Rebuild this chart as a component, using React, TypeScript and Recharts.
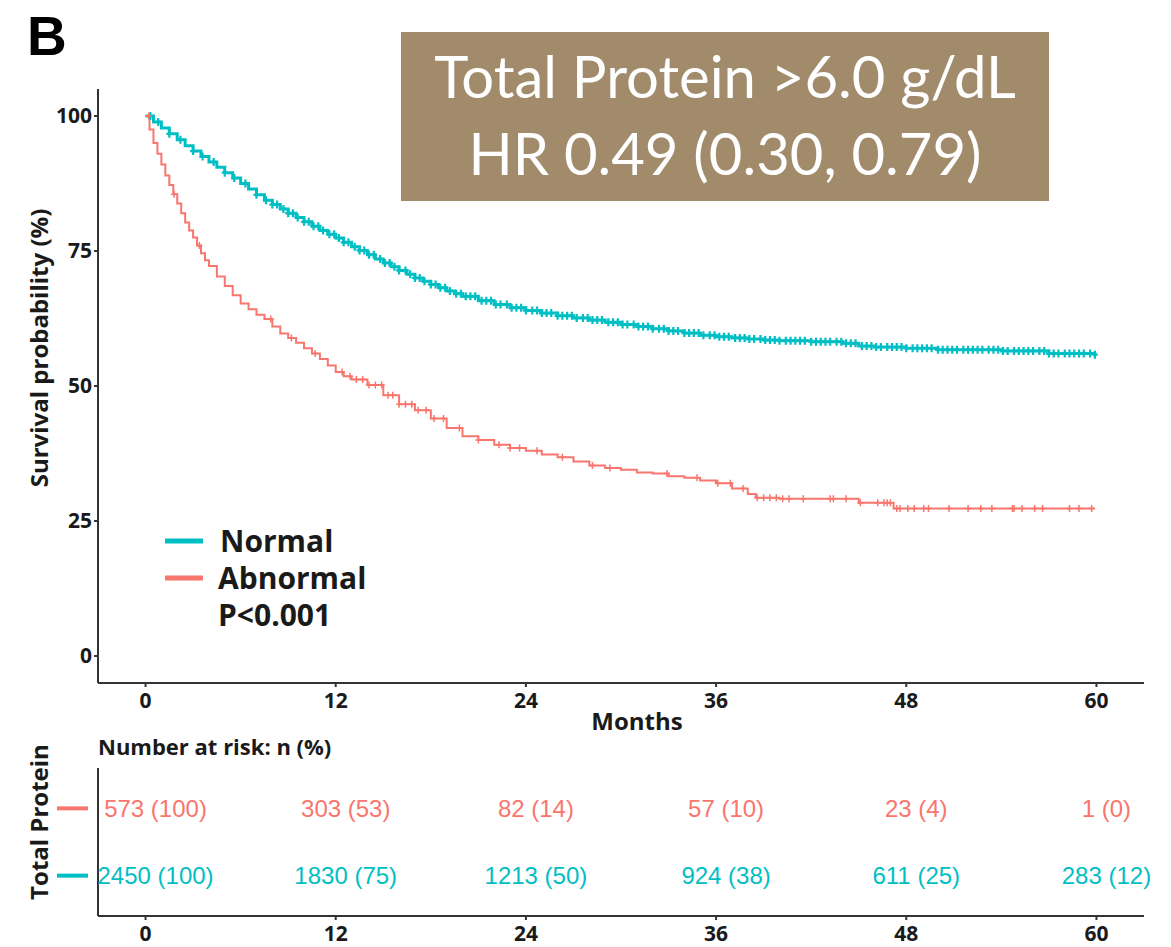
import { ComposedChart, Line, Scatter, XAxis, YAxis } from 'recharts'

const CYAN = '#00BFC4'
const RED = '#F8766D'
const AXIS = '#333333'
const INK = '#1a1a1a'
const BOLD_FONT = '"Open Sans", "Noto Sans", sans-serif'

const MONTH_TICKS = [0, 12, 24, 36, 48, 60]
const SURV_TICKS = [0, 25, 50, 75, 100]

// Kaplan-Meier steps (months, survival %)
const normalTime = [0, 0.5, 1, 1.5, 2, 2.5, 3, 3.5, 4, 4.5, 5, 5.5, 6, 6.5, 7, 7.5, 8, 8.5, 9, 9.5, 10, 10.5, 11, 11.5, 12, 12.5, 13, 13.5, 14, 14.5, 15, 15.5, 16, 16.5, 17, 17.5, 18, 18.5, 19, 19.5, 20, 21, 22, 23, 24, 25, 26, 27, 28, 29, 30, 31, 32, 33, 34, 35, 36, 37, 38, 39, 40, 42, 44, 45, 46, 48, 50, 54, 57, 59.9]
const normalSurv = [100, 98.9, 97.8, 96.7, 95.6, 94.5, 93.5, 92.5, 91.5, 90.5, 89.5, 88.5, 87.5, 86.5, 85.4, 84.4, 83.6, 82.8, 82, 81.2, 80.4, 79.6, 78.8, 78.1, 77.4, 76.6, 75.8, 75.1, 74.3, 73.5, 72.8, 72.1, 71.4, 70.7, 70, 69.4, 68.8, 68.2, 67.6, 67.1, 66.6, 65.8, 65.1, 64.5, 64, 63.5, 63, 62.6, 62.2, 61.8, 61.4, 61, 60.6, 60.2, 59.8, 59.4, 59.1, 58.9, 58.7, 58.5, 58.4, 58.2, 57.9, 57.4, 57.2, 57, 56.7, 56.5, 56, 55.8]

const abnormalTime = [0, 0.25, 0.5, 0.75, 1, 1.25, 1.5, 1.75, 2, 2.25, 2.5, 2.75, 3, 3.25, 3.5, 3.75, 4, 4.5, 5, 5.5, 6, 6.5, 7, 7.5, 8, 8.5, 9, 9.5, 10, 10.5, 11, 11.5, 12, 12.5, 13, 14, 15, 16, 17, 18, 19, 20, 21, 22, 23, 24, 25, 26, 27, 28, 29, 30, 31, 32, 33, 34, 35, 36, 37, 38, 38.5, 40, 45, 47.2, 59.9]
const abnormalSurv = [100, 97.5, 95, 93, 91, 89, 87.2, 85.5, 83.8, 82, 80.3, 78.8, 77.5, 76, 74.6, 73.3, 72.2, 70.3, 68.5, 66.8, 65.3, 64.2, 63.2, 62.4, 61, 59.7, 58.9, 58, 57, 56, 55, 53.8, 52.6, 51.8, 51.2, 50.2, 48.3, 46.6, 45.5, 44, 42.2, 40.7, 40, 39.1, 38.5, 38, 37.3, 36.8, 36, 35.3, 34.8, 34.5, 34, 33.8, 33.3, 33, 32.5, 32, 31, 30, 29.3, 29.1, 28.4, 27.3, 27.3]

// censoring times (+ marks)
const normalCensor = [0.3, 0.8, 1.5, 2.2, 3.0, 3.6, 4.3, 5.0, 5.6, 6.3, 7.0, 7.6, 8.0, 8.3, 8.7, 9.0, 9.3, 9.6, 10.0, 10.3, 10.6, 10.9, 11.2, 11.6, 11.9, 12.2, 12.5, 12.8, 13.2, 13.5, 13.8, 14.1, 14.4, 14.8, 15.1, 15.4, 15.7, 16.0, 16.4, 16.7, 17.0, 17.3, 17.6, 18.0, 18.3, 18.6, 18.9, 19.2, 19.6, 19.9, 20.2, 20.5, 20.8, 21.2, 21.5, 21.8, 22.1, 22.4, 22.8, 23.1, 23.4, 23.7, 24.0, 24.4, 24.7, 25.0, 25.3, 25.6, 26.0, 26.3, 26.6, 26.9, 27.2, 27.6, 27.9, 28.2, 28.5, 28.8, 29.2, 29.5, 29.8, 30.1, 30.4, 30.8, 31.1, 31.4, 31.7, 32.0, 32.4, 32.7, 33.0, 33.3, 33.6, 34.0, 34.3, 34.6, 34.9, 35.2, 35.6, 35.9, 36.2, 36.5, 36.8, 37.2, 37.5, 37.8, 38.1, 38.4, 38.8, 39.1, 39.4, 39.7, 40.0, 40.4, 40.7, 41.0, 41.3, 41.6, 42.0, 42.3, 42.6, 42.9, 43.2, 43.6, 43.9, 44.2, 44.5, 44.8, 45.2, 45.5, 45.8, 46.1, 46.4, 46.8, 47.1, 47.4, 47.7, 48.0, 48.4, 48.7, 49.0, 49.3, 49.6, 50.0, 50.3, 50.6, 50.9, 51.2, 51.6, 51.9, 52.2, 52.5, 52.8, 53.2, 53.5, 53.8, 54.1, 54.4, 54.8, 55.1, 55.4, 55.7, 56.0, 56.4, 56.7, 57.0, 57.3, 57.6, 58.0, 58.3, 58.6, 58.9, 59.2, 59.6, 59.9]
const abnormalCensor = [0.2, 1.8, 3.4, 7.9, 9.2, 10.7, 12.4, 12.9, 13.3, 13.7, 14.1, 14.5, 14.9, 15.3, 15.6, 16.0, 16.4, 16.8, 17.2, 17.7, 18.2, 18.8, 19.8, 21.0, 22.3, 23.0, 23.6, 24.7, 26.3, 28.2, 29.3, 32.9, 34.8, 36.1, 36.9, 37.7, 38.6, 39.0, 39.4, 39.8, 40.2, 40.6, 41.5, 43.2, 43.4, 44.2, 45.1, 46.2, 46.6, 46.8, 47.0, 47.4, 47.6, 48.1, 48.5, 49.1, 49.4, 50.7, 51.9, 52.7, 53.4, 54.7, 54.8, 55.3, 56.1, 56.6, 58.3, 58.9, 59.7]

// number at risk table
const riskTimes = [0, 12, 24, 36, 48, 60]
const abnormalN = [573, 303, 82, 57, 23, 1]
const abnormalPct = [100, 53, 14, 10, 4, 0]
const normalN = [2450, 1830, 1213, 924, 611, 283]
const normalPct = [100, 75, 50, 38, 25, 12]

const toCurve = (ts: number[], vs: number[]) => ts.map((t, i) => ({ t, v: vs[i] }))

// y of the step curve at time t (lookup, censor marks sit on the curve)
const survAt = (ts: number[], vs: number[], t: number) => {
  let v = vs[0]
  for (let i = 0; i < ts.length; i++) {
    if (ts[i] <= t) v = vs[i]
  }
  return v
}

const normalCurve = toCurve(normalTime, normalSurv)
const abnormalCurve = toCurve(abnormalTime, abnormalSurv)
const normalMarks = normalCensor.map((t) => ({ t, v: survAt(normalTime, normalSurv, t) }))
const abnormalMarks = abnormalCensor.map((t) => ({ t, v: survAt(abnormalTime, abnormalSurv, t) }))

const abnormalRisk = riskTimes.map((t, i) => ({ t, row: 2, label: `${abnormalN[i]} (${abnormalPct[i]})` }))
const normalRisk = riskTimes.map((t, i) => ({ t, row: 1, label: `${normalN[i]} (${normalPct[i]})` }))

const plusMark = (color: string, h: number, w: number, sw: number) => (props: any) => {
  const { cx, cy } = props
  if (cx == null || cy == null) return <g />
  return (
    <path
      d={`M${cx - w / 2},${cy}H${cx + w / 2}M${cx},${cy - h / 2}V${cy + h / 2}`}
      stroke={color}
      strokeWidth={sw}
      fill="none"
    />
  )
}

const riskText = (color: string) => (props: any) => {
  const { cx, cy, payload } = props
  if (cx == null || cy == null) return <g />
  return (
    <text
      x={cx + 10}
      y={cy}
      textAnchor="middle"
      dominantBaseline="central"
      fill={color}
      fontSize={24}
      fontFamily='"Liberation Sans", Arial, sans-serif'
    >
      {payload.label}
    </text>
  )
}

const RowDash = (props: any) => {
  const { x, y, payload } = props
  const color = payload.value === 2 ? RED : CYAN
  return <line x1={x - 31} x2={x} y1={y} y2={y} stroke={color} strokeWidth={4} />
}

const tickStyle = { fill: INK, fontSize: 21, fontWeight: 700, fontFamily: BOLD_FONT }

export default function App() {
  return (
    <div style={{ position: 'absolute', left: 0, top: 0, width: 1171, height: 947, background: '#fff' }}>
      <div style={{ position: 'absolute', left: 0, top: 0 }}>
        <ComposedChart width={1171} height={720} margin={{ top: 89, right: 27, bottom: 7, left: 58 }}>
          <XAxis
            dataKey="t"
            type="number"
            domain={[-3, 63]}
            ticks={MONTH_TICKS}
            height={30}
            tick={tickStyle}
            tickSize={4}
            tickMargin={6}
            stroke={AXIS}
            strokeWidth={2}
          />
          <YAxis
            dataKey="v"
            type="number"
            domain={[-5, 105]}
            ticks={SURV_TICKS}
            width={40}
            tick={tickStyle}
            tickSize={4}
            tickMargin={2}
            stroke={AXIS}
            strokeWidth={2}
          />
          <Line
            data={normalCurve}
            dataKey="v"
            type="stepAfter"
            stroke={CYAN}
            strokeWidth={3}
            dot={false}
            activeDot={false}
            isAnimationActive={false}
          />
          <Line
            data={abnormalCurve}
            dataKey="v"
            type="stepAfter"
            stroke={RED}
            strokeWidth={2}
            dot={false}
            activeDot={false}
            isAnimationActive={false}
          />
          <Scatter data={normalMarks} dataKey="v" shape={plusMark(CYAN, 8, 6, 2.2)} isAnimationActive={false} />
          <Scatter data={abnormalMarks} dataKey="v" shape={plusMark(RED, 7, 6, 1.5)} isAnimationActive={false} />
        </ComposedChart>
      </div>

      <div style={{ position: 'absolute', left: 0, top: 720 }}>
        <ComposedChart width={1171} height={227} margin={{ top: 48, right: 27, bottom: 1, left: 58 }}>
          <XAxis
            dataKey="t"
            type="number"
            domain={[-3, 63]}
            ticks={MONTH_TICKS}
            height={30}
            tick={tickStyle}
            tickSize={4}
            tickMargin={6}
            stroke={AXIS}
            strokeWidth={2}
          />
          <YAxis
            dataKey="row"
            type="number"
            domain={[0.4, 2.6]}
            ticks={[1, 2]}
            width={40}
            tick={RowDash}
            tickLine={false}
            tickSize={0}
            tickMargin={10}
            stroke={AXIS}
            strokeWidth={2}
          />
          <Scatter data={abnormalRisk} dataKey="row" shape={riskText(RED)} isAnimationActive={false} />
          <Scatter data={normalRisk} dataKey="row" shape={riskText(CYAN)} isAnimationActive={false} />
        </ComposedChart>
      </div>

      <svg width={1171} height={947} style={{ position: 'absolute', left: 0, top: 0, pointerEvents: 'none' }}>
        <text x={27} y={55} fontSize={55} fontWeight={700} fill="#000" fontFamily='"Liberation Sans", Arial, sans-serif'>
          B
        </text>

        <rect x={401} y={32} width={648} height={169} fill="#A18B6A" />
        <text x={725} y={98} textAnchor="middle" fontSize={58} fill="#fff" fontFamily="Lato, sans-serif">
          Total Protein &gt;6.0 g/dL
        </text>
        <text x={725} y={175} textAnchor="middle" fontSize={58} fill="#fff" fontFamily="Lato, sans-serif">
          HR 0.49 (0.30, 0.79)
        </text>

        <text
          transform="translate(38,348) rotate(-90)"
          textAnchor="middle"
          dominantBaseline="central"
          fontSize={24}
          fontWeight={700}
          fill={INK}
          fontFamily={BOLD_FONT}
        >
          Survival probability (%)
        </text>
        <text x={637} y={730} textAnchor="middle" fontSize={24} fontWeight={700} fill={INK} fontFamily={BOLD_FONT}>
          Months
        </text>

        <line x1={165} x2={203} y1={541} y2={541} stroke={CYAN} strokeWidth={5} />
        <text x={220} y={552} fontSize={30} fontWeight={700} fill={INK} fontFamily={BOLD_FONT}>
          Normal
        </text>
        <line x1={165} x2={203} y1={578} y2={578} stroke={RED} strokeWidth={5} />
        <text x={218} y={589} fontSize={30} fontWeight={700} fill={INK} fontFamily={BOLD_FONT}>
          Abnormal
        </text>
        <text x={218} y={626} fontSize={30} fontWeight={700} fill={INK} fontFamily={BOLD_FONT}>
          P&lt;0.001
        </text>

        <text x={98} y={755} fontSize={22} fontWeight={700} fill={INK} fontFamily={BOLD_FONT}>
          Number at risk: n (%)
        </text>
        <text
          transform="translate(38,822) rotate(-90)"
          textAnchor="middle"
          dominantBaseline="central"
          fontSize={24}
          fontWeight={700}
          fill={INK}
          fontFamily={BOLD_FONT}
        >
          Total Protein
        </text>
      </svg>
    </div>
  )
}
